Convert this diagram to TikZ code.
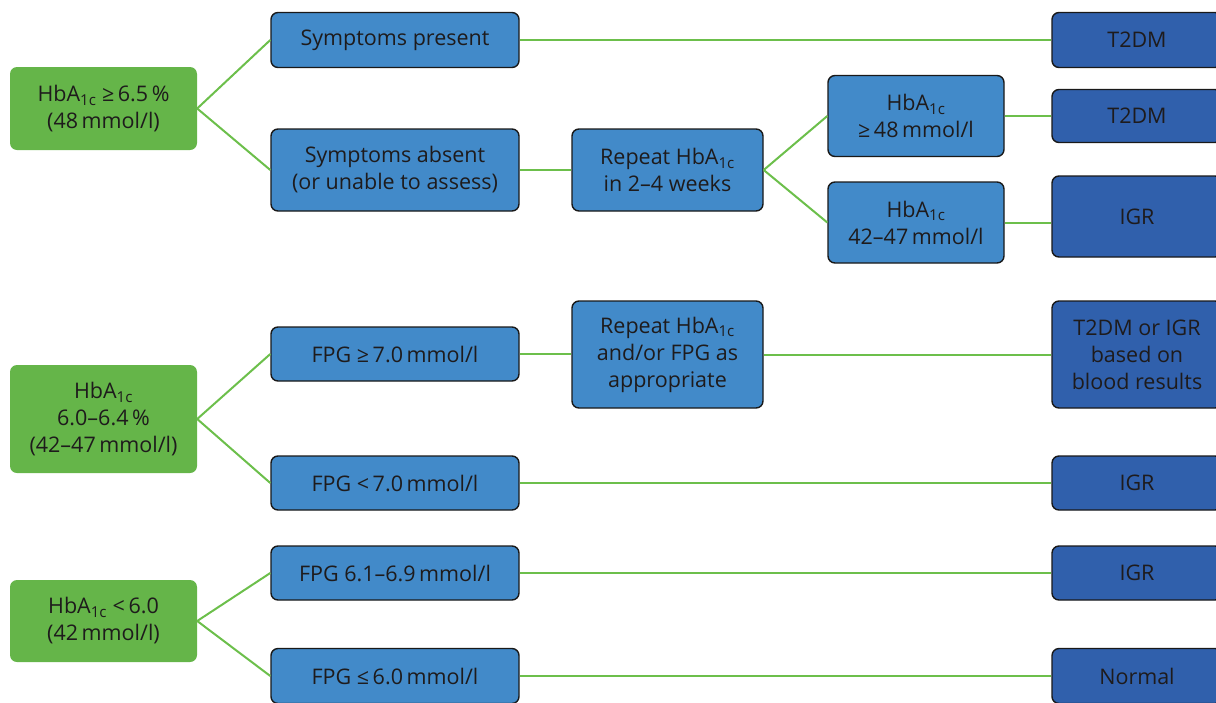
\documentclass[tikz,border=0pt]{standalone}
\usepackage{fontspec}
\setmainfont{Open Sans}
\definecolor{gfill}{HTML}{65B549}
\definecolor{bfill}{HTML}{428AC9}
\definecolor{dfill}{HTML}{3060AC}
\definecolor{lgreen}{HTML}{6CBF4B}
\definecolor{tcol}{HTML}{1E1B1C}
\newcommand{\oc}{\textsubscript{1c}}
\begin{document}
\begin{tikzpicture}[x=1pt,y=-1pt,
  base/.style={align=center,text=tcol,inner sep=0pt,font=\fontsize{21.5}{27}\selectfont},
  gbox/.style={base,fill=gfill,rounded corners=7pt,minimum width=187pt},
  bbox/.style={base,fill=bfill,draw=black!90,line width=1.4pt,rounded corners=7pt},
  dbox/.style={base,fill=dfill,draw=black!90,line width=1.4pt,rounded corners=7pt,minimum width=170pt},
  conn/.style={lgreen,line width=2pt}]
\useasboundingbox (0,0) rectangle (1216,702);
% green decision boxes
\node[gbox,minimum height=83pt] (g1) at (103.5,108.5) {HbA\oc\ ≥\,6.5\,\%\\(48\,mmol/l)};
\node[gbox,minimum height=108pt] (g2) at (103.5,419) {HbA\oc\\6.0–6.4\,\%\\(42–47\,mmol/l)};
\node[gbox,minimum height=82pt] (g3) at (103.5,621) {HbA\oc\ <\,6.0\\(42\,mmol/l)};
% blue boxes
\node[bbox,minimum width=248pt,minimum height=55pt] (b1) at (395,40) {Symptoms present};
\node[bbox,minimum width=248pt,minimum height=82pt] (b2) at (395,170) {Symptoms absent\\(or unable to assess)};
\node[bbox,minimum width=191pt,minimum height=82pt] (b3) at (667.5,170) {Repeat HbA\oc\\in 2–4 weeks};
\node[bbox,minimum width=176pt,minimum height=81pt] (b4) at (916,116) {HbA\oc\\≥\,48\,mmol/l};
\node[bbox,minimum width=176pt,minimum height=81pt] (b5) at (916,222.5) {HbA\oc\\42–47\,mmol/l};
\node[bbox,minimum width=248pt,minimum height=54pt] (b6) at (395,354) {FPG ≥\,7.0\,mmol/l};
\node[bbox,minimum width=191pt,minimum height=107pt] (b7) at (667.5,354.5) {Repeat HbA\oc\\and/or FPG as\\appropriate};
\node[bbox,minimum width=248pt,minimum height=54pt] (b8) at (395,483) {FPG <\,7.0\,mmol/l};
\node[bbox,minimum width=248pt,minimum height=54pt] (b9) at (395,573) {FPG 6.1–6.9\,mmol/l};
\node[bbox,minimum width=248pt,minimum height=55pt] (b10) at (395,676) {FPG ≤\,6.0\,mmol/l};
% dark outcome boxes
\node[dbox,minimum height=55pt] (d1) at (1137,40) {T2DM};
\node[dbox,minimum height=53pt] (d2) at (1137,116) {T2DM};
\node[dbox,minimum height=81pt] (d3) at (1137,216.5) {IGR};
\node[dbox,minimum height=107pt] (d4) at (1137,354.5) {T2DM or IGR\\based on\\blood results};
\node[dbox,minimum height=54pt] (d5) at (1137,483) {IGR};
\node[dbox,minimum height=54pt] (d6) at (1137,573) {IGR};
\node[dbox,minimum height=55pt] (d7) at (1137,676) {Normal};
% connectors
\draw[conn] (g1.east) -- (b1.west);
\draw[conn] (g1.east) -- (b2.west);
\draw[conn] (b1.east) -- (d1.west);
\draw[conn] (b2.east) -- (b3.west);
\draw[conn] (b3.east) -- (b4.west);
\draw[conn] (b3.east) -- (b5.west);
\draw[conn] (b4.east) -- (b4.east -| d2.west);
\draw[conn] (b5.east) -- (b5.east -| d3.west);
\draw[conn] (g2.east) -- (b6.west);
\draw[conn] (g2.east) -- (b8.west);
\draw[conn] (b6.east) -- (b6.east -| b7.west);
\draw[conn] (b7.east) -- (d4.west);
\draw[conn] (b8.east) -- (d5.west);
\draw[conn] (g3.east) -- (b9.west);
\draw[conn] (g3.east) -- (b10.west);
\draw[conn] (b9.east) -- (d6.west);
\draw[conn] (b10.east) -- (d7.west);
\end{tikzpicture}
\end{document}
